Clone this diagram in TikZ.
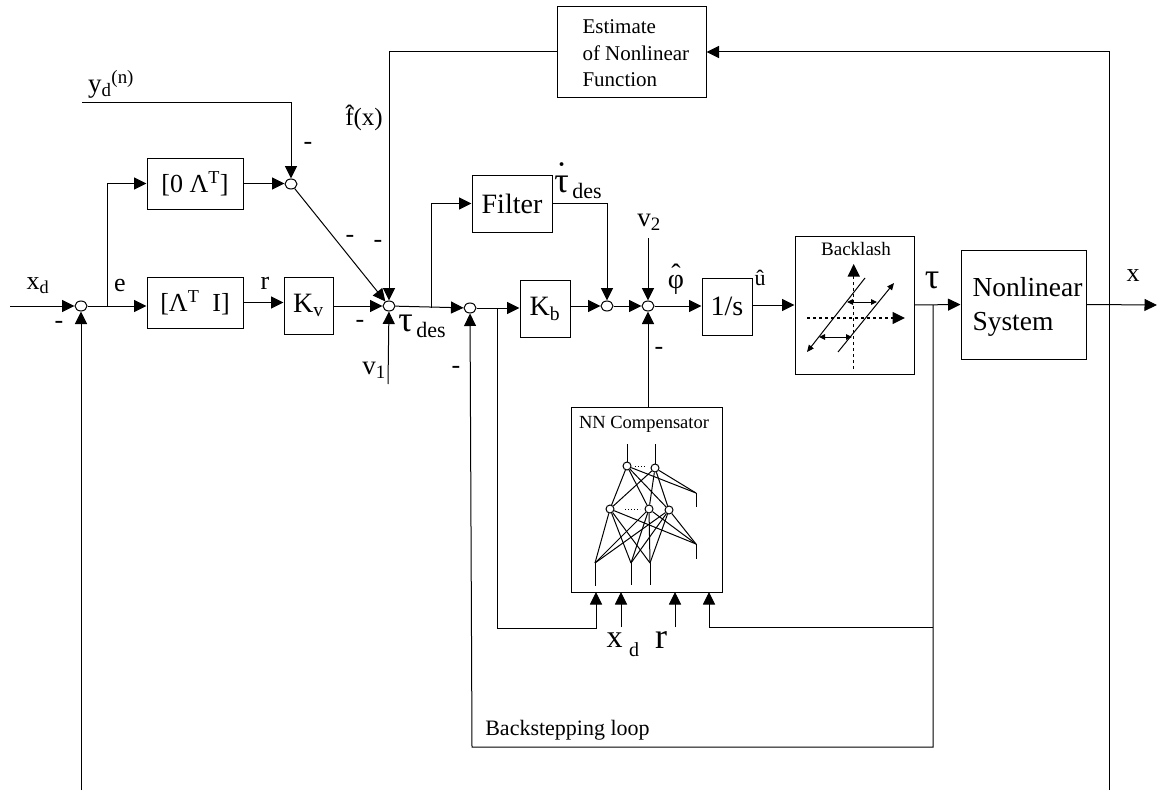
\documentclass[tikz,border=0pt]{standalone}
\usepackage{fontspec}
\usepackage{tikz}
\usetikzlibrary{arrows.meta,shapes.geometric}
\setmainfont{Liberation Serif}
\newcommand{\fs}[1]{\fontsize{#1}{#1}\selectfont}
\newcommand{\topped}[3]{\ooalign{\hfil\raisebox{#1}{#2}\hfil\cr #3\cr}}

\begin{document}
\begin{tikzpicture}[
      x=1pt,y=-1pt,
      line width=1pt,
      >={Triangle[length=12.5pt,width=12pt]},
      small/.style={{Triangle[length=6pt,width=5.5pt]}-{Triangle[length=6pt,width=5.5pt]}},
      sumnode/.style={ellipse,draw,fill=white,inner sep=0pt,minimum width=12pt,minimum height=10pt},
      neuron/.style={circle,draw,fill=white,inner sep=0pt,minimum size=8pt},
      block/.style={draw,inner sep=0pt,align=center,font=\fs{28}},
      lab/.style={inner sep=0pt,font=\fs{26}},
      big/.style={inner sep=0pt,font=\fs{32}}
    ]
    \useasboundingbox (0,0) rectangle (1157,792);
    % blocks
    \node (est) [block,minimum width=149pt,minimum height=90pt] at (631.5,52) {};
    \node (zl) [block,font=\fs{26},minimum width=96pt,minimum height=51pt] at (195,183.5) {[0 Λ\textsuperscript{T}]};
    \node (li) [block,font=\fs{26},minimum width=96pt,minimum height=51pt] at (195,302.5) {[Λ\textsuperscript{T}\ \ I]};
    \node (kv) [block,minimum width=49pt,minimum height=57pt] at (308.5,305.5) {K\textsubscript{v}};
    \node (fil) [block,minimum width=80pt,minimum height=57pt] at (512,203.5) {Filter};
    \node (kb) [block,minimum width=50pt,minimum height=57pt] at (545,308.5) {K\textsubscript{b}};
    \node (int) [block,minimum width=50pt,minimum height=57pt] at (727,306.5) {1/s};
    \node (bl) [block,minimum width=119pt,minimum height=138pt] at (854.5,305) {};
    \node (ns) [block,minimum width=125pt,minimum height=109pt] at (1023.5,304.5) {};
    \node (nn) [block,minimum width=151pt,minimum height=185pt] at (646.5,499.5) {};
    % summing junctions
    \node (s1) [sumnode] at (81,306) {};
    \node (s2) [sumnode] at (291,184) {};
    \node (s3) [sumnode] at (389,306) {};
    \node (s4) [sumnode] at (470,308) {};
    \node (s5) [sumnode] at (607,306) {};
    \node (s6) [sumnode] at (648,306) {};
    % free ends and corners
    \coordinate (in) at (10,306);
    \coordinate (out) at (1157,305);
    \coordinate (yd) at (82,102);
    \coordinate (v1) at (388,384);
    \coordinate (v2) at (648,238);
    \coordinate (fb) at (81,790);
    \coordinate (fx) at (1109,790);
    \coordinate (tp) at (933,305);
    \coordinate (kn) at (497,308);
    % main path
    \draw[->] (in) -- (s1);
    \draw[->] (s1) -- (s1 -| li.west);
    \draw[->] (107,306) |- (zl.west);
    \draw[->] (zl.east) -- (zl.east -| s2.west);
    \draw[->] (yd) -| (s2);
    \draw[->] (s2) -- (s3);
    \draw[->] (li.east) -- (li.east -| kv.west);
    \draw[->] (kv.east |- s3) -- (s3);
    \draw[->] (est.west) -| (s3);
    \draw[->] (v1) -- (s3);
    \draw[->] (s3) -- (s4);
    \draw[->] (431,308) |- (fil.west);
    \draw[->] (s4) -- (s4 -| kb.west);
    \draw[->] (kb.east |- s5) -- (s5);
    \draw[->] (fil.east) -| (s5);
    \draw[->] (s5) -- (s6);
    \draw[->] (v2) -- (s6);
    \draw[->] (nn.north -| s6) -- (s6);
    \draw[->] (s6) -- (s6 -| int.west);
    \draw[->] (int.east |- bl.west) -- (bl.west);
    \draw[->] (bl.east) -- (ns.west);
    \draw[->] (ns.east) -- (out);
    % feedback
    \draw[->] (fb) -- (s1);
    \draw[->] (fx) |- (est.east);
    \draw[->] (tp) |- (472,747) -- (s4);
    \draw[->] (kn) |- (596,628) -- (596,592);
    \draw[->] (tp |- 0,627) -| (709,592);
    \draw[->] (621,627) -- (621,592);
    \draw[->] (675,627) -- (675,592);
    % backlash curve
    \draw[dashed,line width=1.3pt,->] (853.7,369) -- (853.7,264);
    \draw[dashed,line width=1.3pt,->] (807,318) -- (905,318);
    \draw[-{Triangle[length=7pt,width=6pt]}] (865,278) -- (807,352);
    \draw[-{Triangle[length=7pt,width=6pt]}] (838,352) -- (894,283);
    \draw[small] (847,302) -- (877,302);
    \draw[small] (819,337) -- (852,337);
    % network
    \node (n1) [neuron] at (627,466) {};
    \node (n2) [neuron] at (655,468) {};
    \node (m1) [neuron] at (610,509) {};
    \node (m2) [neuron] at (649,509) {};
    \node (m3) [neuron] at (669,510) {};
    \coordinate (ra) at (696,493);
    \coordinate (rb) at (696,544);
    \coordinate (b1) at (595,563);
    \coordinate (b2) at (631,563);
    \coordinate (b3) at (650,563);
    \foreach \a in {n1,n2} {
      \foreach \b in {m1,m2,m3,ra} {
        \draw (\a) -- (\b);
      }
    }
    \foreach \a in {m1,m2,m3} {
      \foreach \b in {b1,b2,b3,rb} {
        \draw (\a) -- (\b);
      }
    }
    \draw (n1) -- (627,444);
    \draw (n2) -- (655,444);
    \draw (ra) -- (696,507);
    \draw (rb) -- (696,559);
    \draw (b1) -- (595,586);
    \draw (b2) -- (631,585);
    \draw (b3) -- (650,585);
    \draw[dotted] (635,466.5) -- (646,466.5);
    \draw[dotted] (625,509) -- (640,509);
    % labels
    \node (lest) [lab,font=\fontsize{21}{26.5}\selectfont,align=left,anchor=west] at (582,53.5) {Estimate\\of Nonlinear\\Function};
    \node (lns) [lab,font=\fontsize{27.5}{34}\selectfont,align=left,anchor=west] at (972,307) {Nonlinear\\System};
    \node (lxd) [lab] at (38,286) {x\textsubscript{d}};
    \node (lyd) [lab,font=\fs{27}] at (111,84) {y\textsubscript{d}\textsuperscript{(n)}};
    \node (le) [lab] at (120,285) {e};
    \node (lr) [lab] at (265,283) {r};
    \node (lf) [lab,font=\fs{25}] at (364,118) {\topped{3pt}{ˆ}{f}(x)};
    \node (ltd) [lab,font=\fs{22}] at (422,326) {{\fs{36}τ}\,\raisebox{-6pt}{des}};
    \node (lv1) [lab,font=\fs{27}] at (374,370) {v\textsubscript{1}};
    \node (ldt) [lab,font=\fs{22}] at (578,181) {{\fs{36}\topped{6pt}{˙}{τ}}\,\raisebox{-6pt}{des}};
    \node (lv2) [lab,font=\fs{27}] at (649,222) {v\textsubscript{2}};
    \node (lphi) [lab,font=\fs{28}] at (676,279) {\topped{5pt}{ˆ}{φ}};
    \node (lu) [lab,font=\fs{22}] at (760,278) {û};
    \node (ltau) [lab,font=\fs{36}] at (932,280) {τ};
    \node (lx) [lab] at (1133,276) {x};
    \node (lbl) [lab,font=\fs{19}] at (856,249) {Backlash};
    \node (lnn) [lab,font=\fs{18.5}] at (644,424) {NN Compensator};
    \node (lxb) [big] at (614.5,640) {x};
    \node (ldb) [lab,font=\fs{20}] at (634,650) {d};
    \node (lrb) [big,font=\fs{36}] at (661,640) {r};
    \node (lbs) [lab,font=\fs{22}] at (567.5,730) {Backstepping loop};
    % minus signs
    \node (m0) [lab] at (59,325) {-};
    \node (m4) [lab] at (308,146) {-};
    \node (m5) [lab] at (350,239) {-};
    \node (m6) [lab] at (378,244) {-};
    \node (m7) [lab] at (360,324) {-};
    \node (m8) [lab] at (456,370) {-};
    \node (m9) [lab] at (659,351) {-};
  \end{tikzpicture}
\end{document}
